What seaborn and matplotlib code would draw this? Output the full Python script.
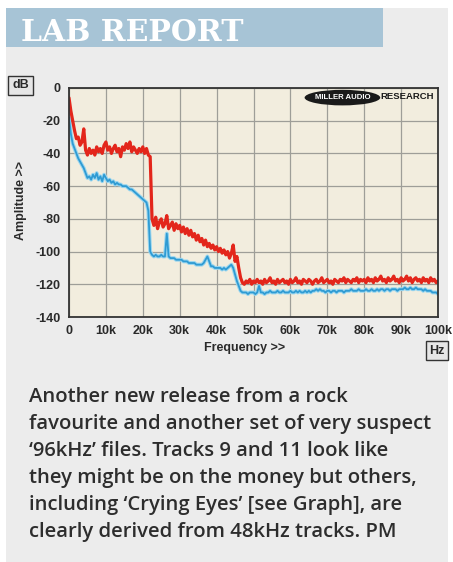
import matplotlib
matplotlib.use('Agg')
import numpy as np
import pandas as pd
import seaborn as sns
import matplotlib.pyplot as plt
from matplotlib.patches import Rectangle, Ellipse

# ---------------- data (dB, sampled every 0.5 kHz, one row = 5 kHz) ----------------
red_db = [
    -6, -14, -20, -26, -31, -30, -35, -33, -25, -38,          # 0-4.5k
    -41, -37, -40, -38, -41, -36, -39, -37, -40, -35,         # 5k
    -33, -38, -36, -40, -37, -35, -39, -37, -42, -36,         # 10k
    -38, -34, -37, -33, -39, -36, -38, -40, -37, -39,         # 15k
    -36, -40, -37, -41, -42, -80, -84, -79, -86, -82,         # 20k
    -80, -85, -83, -78, -86, -84, -82, -87, -83, -86,         # 25k
    -84, -88, -85, -89, -86, -90, -87, -91, -89, -93,         # 30k
    -90, -94, -92, -96, -93, -97, -95, -98, -96, -99,         # 35k
    -97, -100, -98, -101, -99, -102, -100, -104, -101, -96,   # 40k
    -106, -103, -110, -116, -119, -120, -118, -119, -117, -120,  # 45k
    -118, -119, -117, -119, -118, -120, -117, -119, -118, -116,  # 50k
    -119, -118, -120, -117, -119, -118, -117, -119, -118, -120,  # 55k
    -117, -119, -118, -116, -119, -118, -120, -117, -118, -119,  # 60k
    -117, -118, -120, -118, -117, -119, -118, -116, -119, -118,  # 65k
    -117, -119, -118, -120, -117, -118, -119, -117, -118, -116,  # 70k
    -119, -117, -118, -119, -117, -118, -116, -119, -117, -118,  # 75k
    -117, -119, -116, -118, -117, -119, -116, -118, -117, -115,  # 80k
    -118, -117, -119, -116, -118, -117, -115, -118, -117, -119,  # 85k
    -116, -118, -117, -115, -118, -116, -119, -117, -116, -118,  # 90k
    -117, -119, -116, -118, -117, -119, -116, -118, -117, -119,  # 95k
    -118,                                                        # 100k
]

blue_db = [
    -18, -28, -34, -37, -40, -43, -45, -47, -49, -52,            # 0-4.5k
    -55, -54, -56, -53, -55, -52, -56, -54, -57, -53,            # 5k
    -55, -57, -56, -58, -57, -59, -58, -59, -59, -60,            # 10k
    -60, -60, -61, -62, -62, -63, -64, -65, -66, -67,            # 15k
    -68, -69, -70, -75, -100, -102, -103, -102, -103, -103,      # 20k
    -102, -103, -103, -89, -103, -104, -104, -104, -105, -105,   # 25k
    -105, -105, -106, -106, -106, -107, -107, -107, -107, -108,  # 30k
    -108, -108, -108, -107, -105, -103, -106, -109, -109, -110,  # 35k
    -110, -110, -110, -111, -110, -111, -110, -109, -108, -110,  # 40k
    -114, -118, -121, -124, -125, -125, -125, -126, -125, -125,  # 45k
    -125, -126, -125, -121, -125, -125, -126, -125, -125, -124,  # 50k
    -125, -125, -125, -124, -125, -125, -124, -125, -125, -125,  # 55k
    -124, -125, -125, -124, -125, -124, -125, -125, -124, -125,  # 60k
    -124, -125, -124, -124, -123, -124, -123, -124, -124, -125,  # 65k
    -124, -124, -125, -124, -124, -125, -124, -124, -124, -125,  # 70k
    -124, -124, -124, -123, -124, -124, -124, -123, -124, -124,  # 75k
    -124, -123, -124, -124, -123, -124, -124, -123, -124, -123,  # 80k
    -123, -124, -123, -123, -124, -123, -123, -123, -124, -123,  # 85k
    -123, -123, -122, -123, -123, -122, -123, -123, -122, -123,  # 90k
    -123, -123, -124, -123, -124, -124, -124, -125, -125, -125,  # 95k
    -126,                                                        # 100k
]

x_ticks = [0, 10, 20, 30, 40, 50, 60, 70, 80, 90, 100]
x_tick_labels = ["0", "10k", "20k", "30k", "40k", "50k", "60k", "70k", "80k", "90k", "100k"]
y_ticks = [0, -20, -40, -60, -80, -100, -120, -140]
y_tick_labels = ["0", "-20", "-40", "-60", "-80", "-100", "-120", "-140"]

title = "LAB REPORT"
caption_lines = [
    "Another new release from a rock",
    "favourite and another set of very suspect",
    "\u201896kHz\u2019 files. Tracks 9 and 11 look like",
    "they might be on the money but others,",
    "including \u2018Crying Eyes\u2019 [see Graph], are",
    "clearly derived from 48kHz tracks. PM",
]

freq_red = np.linspace(0, 100, len(red_db))
freq_blue = np.linspace(0, 100, len(blue_db))
df_red = pd.DataFrame({"freq": freq_red, "db": red_db})
df_blue = pd.DataFrame({"freq": freq_blue, "db": blue_db})

# ---------------- figure ----------------
sns.set_style("white")
plt.rcParams['font.family'] = ['Liberation Sans', 'DejaVu Sans']

W, H = 453, 562
fig = plt.figure(figsize=(W / 100, H / 100), dpi=100)
fig.patch.set_facecolor('white')

def fx(px):
    return px / W

def fy(py):
    return 1 - py / H

fig.patches.append(Rectangle((fx(6), 0), fx(448) - fx(6), fy(8), transform=fig.transFigure,
                             facecolor='#ececec', edgecolor='none', zorder=-5))
fig.patches.append(Rectangle((fx(6), fy(47)), fx(383) - fx(6), fy(8) - fy(47), transform=fig.transFigure,
                             facecolor='#a7c4d6', edgecolor='none', zorder=-4))
fig.text(fx(21), fy(41), title, color='white', fontsize=21.5, fontweight='bold',
         family='DejaVu Serif', ha='left', va='baseline')

ax = fig.add_axes([fx(69), fy(317), (438 - 69) / W, (317 - 88) / H])
ax.set_zorder(2)
ax.set_facecolor('#f2edde')

sns.lineplot(data=df_blue, x="freq", y="db", ax=ax, color='#9ad6ef', linewidth=2.8,
             estimator=None, sort=False, legend=False)
sns.lineplot(data=df_blue, x="freq", y="db", ax=ax, color='#2f9bd3', linewidth=1.3,
             estimator=None, sort=False, legend=False)
sns.lineplot(data=df_red, x="freq", y="db", ax=ax, color='#e3261b', linewidth=2.3,
             estimator=None, sort=False, legend=False)

ax.set_xlim(0, 100)
ax.set_ylim(-140, 0)
ax.set_xticks(x_ticks, x_tick_labels, fontweight='bold')
ax.set_yticks(y_ticks, y_tick_labels, fontweight='bold')
ax.tick_params(axis='both', labelsize=9, labelcolor='#2a2a2a', length=3, width=1,
               color='#333333', direction='out', pad=3)
ax.grid(True, color='#9e9e98', linewidth=0.9)
ax.set_axisbelow(True)
for s in ax.spines.values():
    s.set_visible(True)
    s.set_color('#333333')
    s.set_linewidth(1.3)
ax.set_xlabel("")
ax.set_ylabel("")

# logo
ax.add_patch(Ellipse((0.741, 0.958), 0.205, 0.068, transform=ax.transAxes,
                     facecolor='#1a1a1a', edgecolor='none', zorder=5))
ax.text(0.741, 0.958, "MILLER AUDIO", transform=ax.transAxes, color='white', fontsize=5.6,
        fontweight='bold', ha='center', va='center', zorder=6)
ax.text(0.843, 0.962, "RESEARCH", transform=ax.transAxes, color='#1a1a1a', fontsize=6.8,
        fontweight='bold', ha='left', va='center', zorder=6)

# axis labels and unit boxes
fig.text(fx(245), fy(348), "Frequency >>", fontsize=9, fontweight='bold', color='#2a2a2a',
         ha='center', va='center')
fig.text(fx(21), fy(200), "Amplitude >>", fontsize=9, fontweight='bold', color='#2a2a2a',
         ha='center', va='center', rotation=90)
fig.text(fx(20.5), fy(85.5), "dB", fontsize=9, fontweight='bold', color='#2a2a2a', ha='center', va='center',
         bbox=dict(boxstyle='square,pad=0.3', facecolor='#e6e6e6', edgecolor='#333333', linewidth=1))
fig.text(fx(437), fy(350.5), "Hz", fontsize=9, fontweight='bold', color='#2a2a2a', ha='center', va='center',
         bbox=dict(boxstyle='square,pad=0.25', facecolor='#e6e6e6', edgecolor='#333333', linewidth=1))

# caption
for i, line in enumerate(caption_lines):
    fig.text(fx(29), fy(401.5 + 27.2 * i), line, fontsize=14.6, fontweight='semibold',
             family=['Open Sans', 'DejaVu Sans'], color='#2d2d2d', ha='left', va='baseline')

fig.savefig("out.png", dpi=100, facecolor='white')
